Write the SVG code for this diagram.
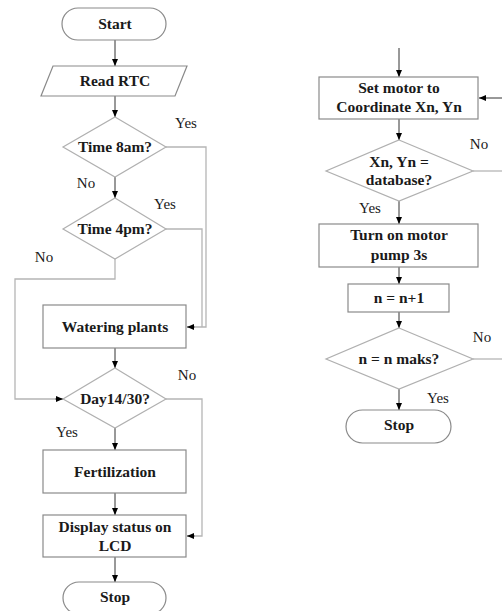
<svg xmlns="http://www.w3.org/2000/svg" width="502" height="611" viewBox="0 0 502 611">
<defs>
<style>
.box{fill:#fff;stroke:#8a8a8a;stroke-width:1.2}
.dia{fill:#fff;stroke:#b0b0b0;stroke-width:1.2}
.t{font-family:"Liberation Serif","Times New Roman",serif;font-weight:bold;font-size:15.5px;fill:#1a1a1a;text-anchor:middle}
.lab{font-family:"Liberation Serif","Times New Roman",serif;font-size:15px;fill:#1a1a1a;text-anchor:middle}
.c{fill:none;stroke:#333;stroke-width:1}
.cl{fill:none;stroke:#b5b5b5;stroke-width:1.3}
</style>
<marker id="ah" markerUnits="userSpaceOnUse" markerWidth="8" markerHeight="8" refX="7" refY="3" orient="auto">
<path d="M0,0 L7,3 L0,6 z" fill="#000"/>
</marker>
</defs>
<rect width="502" height="611" fill="#fff"/>
<g id="connectors">
<line class="c" x1="115" y1="40" x2="115" y2="66" marker-end="url(#ah)"/>
<line class="c" x1="115" y1="96" x2="115" y2="117" marker-end="url(#ah)"/>
<line class="c" x1="115" y1="177" x2="115" y2="198" marker-end="url(#ah)"/>
<polyline class="cl" points="166,147 206,147 206,327 195,327"/>
<line class="c" x1="195" y1="327" x2="187" y2="327" marker-end="url(#ah)"/>
<polyline class="cl" points="166,229 202,229 202,327"/>
<polyline class="cl" points="115,259 115,279 15,279 15,399 55,399"/>
<line class="c" x1="55" y1="399" x2="63" y2="399" marker-end="url(#ah)"/>
<line class="c" x1="115" y1="348" x2="115" y2="368" marker-end="url(#ah)"/>
<polyline class="cl" points="166,399 202,399 202,536 195,536"/>
<line class="c" x1="195" y1="536" x2="187" y2="536" marker-end="url(#ah)"/>
<line class="c" x1="115" y1="428" x2="115" y2="450" marker-end="url(#ah)"/>
<line class="c" x1="115" y1="493" x2="115" y2="515" marker-end="url(#ah)"/>
<line class="c" x1="115" y1="557" x2="115" y2="582" marker-end="url(#ah)"/>
<line class="c" x1="399" y1="48" x2="399" y2="77" marker-end="url(#ah)"/>
<line class="c" x1="502" y1="98" x2="479" y2="98" marker-end="url(#ah)"/>
<line class="c" x1="399" y1="119" x2="399" y2="140" marker-end="url(#ah)"/>
<line class="cl" x1="473" y1="171" x2="502" y2="171"/>
<line class="c" x1="399" y1="201" x2="399" y2="224" marker-end="url(#ah)"/>
<line class="c" x1="399" y1="267" x2="399" y2="284" marker-end="url(#ah)"/>
<line class="c" x1="399" y1="312" x2="399" y2="328" marker-end="url(#ah)"/>
<line class="cl" x1="473" y1="359" x2="502" y2="359"/>
<line class="c" x1="399" y1="389" x2="399" y2="410" marker-end="url(#ah)"/>
<text class="lab" x="186" y="128">Yes</text>
<text class="lab" x="86" y="188">No</text>
<text class="lab" x="165" y="209">Yes</text>
<text class="lab" x="44" y="262">No</text>
<text class="lab" x="187" y="380">No</text>
<text class="lab" x="67" y="437">Yes</text>
<text class="lab" x="479" y="149">No</text>
<text class="lab" x="370" y="213">Yes</text>
<text class="lab" x="482" y="342">No</text>
<text class="lab" x="438" y="403">Yes</text>
</g>
<g id="start"><rect class="box" x="62" y="8" width="104" height="32" rx="16"/><text class="t" x="115" y="29">Start</text></g>
<g id="readrtc"><polygon class="box" points="53,66 187,66 175,96 41,96"/><text class="t" x="115" y="86">Read RTC</text></g>
<g id="time8"><polygon class="dia" points="115,117 166,147 115,177 63,147"/><text class="t" x="115" y="152">Time 8am?</text></g>
<g id="time4"><polygon class="dia" points="115,198 166,229 115,259 63,229"/><text class="t" x="115" y="234">Time 4pm?</text></g>
<g id="watering"><rect class="box" x="43" y="305" width="143" height="43"/><text class="t" x="115" y="332">Watering plants</text></g>
<g id="day"><polygon class="dia" points="115,368 166,399 115,428 63,399"/><text class="t" x="115" y="404">Day14/30?</text></g>
<g id="fert"><rect class="box" x="43" y="450" width="143" height="43"/><text class="t" x="115" y="477">Fertilization</text></g>
<g id="display"><rect class="box" x="43" y="515" width="143" height="42"/><text class="t" x="115" y="532">Display status on</text><text class="t" x="115" y="551">LCD</text></g>
<g id="stop1"><rect class="box" x="63" y="582" width="103" height="32" rx="16"/><text class="t" x="115" y="602">Stop</text></g>
<g id="setmotor"><rect class="box" x="319" y="77" width="159" height="42"/><text class="t" x="399" y="93">Set motor to</text><text class="t" x="399" y="112">Coordinate Xn, Yn</text></g>
<g id="xndb"><polygon class="dia" points="399,140 473,171 399,201 326,171"/><text class="t" x="399" y="167">Xn, Yn =</text><text class="t" x="399" y="185">database?</text></g>
<g id="pump"><rect class="box" x="319" y="224" width="159" height="43"/><text class="t" x="399" y="240">Turn on motor</text><text class="t" x="399" y="260">pump 3s</text></g>
<g id="ninc"><rect class="box" x="348" y="284" width="101" height="28"/><text class="t" x="399" y="303">n = n+1</text></g>
<g id="nmax"><polygon class="dia" points="399,328 473,359 399,389 326,359"/><text class="t" x="399" y="364">n = n maks?</text></g>
<g id="stop2"><rect class="box" x="346" y="410" width="105" height="33" rx="16.5"/><text class="t" x="399" y="430">Stop</text></g>
</svg>
